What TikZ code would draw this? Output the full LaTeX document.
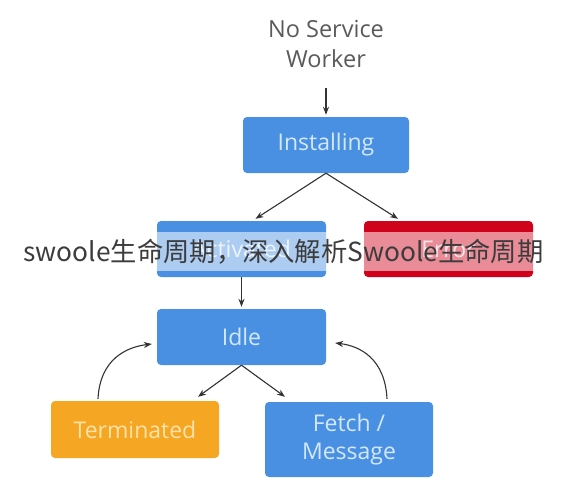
\documentclass[tikz,border=0pt]{standalone}
\usepackage{fontspec}
\setmainfont{Open Sans}
\newfontfamily\cjk{Noto Sans CJK SC}
\usetikzlibrary{arrows.meta,calc}
\definecolor{boxblue}{HTML}{4A90E2}
\definecolor{txtblue}{HTML}{D3E8FC}
\definecolor{boxred}{HTML}{D0021B}
\definecolor{txtred}{HTML}{F6C9CF}
\definecolor{boxorange}{HTML}{F5A623}
\definecolor{txtorange}{HTML}{FFE3A8}
\definecolor{linegray}{HTML}{333333}
\definecolor{titlegray}{HTML}{5A5A5A}
\definecolor{wmgray}{HTML}{3C3C3C}
\tikzset{
  state/.style={rounded corners=4pt, minimum width=169pt, minimum height=56pt,
    inner sep=0pt, font=\fontsize{23}{28}\selectfont, align=center},
  bluebox/.style={state, fill=boxblue, text=txtblue},
  redbox/.style={state, fill=boxred, text=txtred},
  orangebox/.style={state, fill=boxorange, text=txtorange},
  conn/.style={draw=linegray, line width=1.1pt, -{Stealth[length=8pt,width=6pt]}},
}
\begin{document}
\begin{tikzpicture}[x=1pt,y=-1pt]
\useasboundingbox (0,0) rectangle (566,490);
\fill[white] (0,0) rectangle (566,490);
\node[text=titlegray, font=\fontsize{23.5}{30}\selectfont, align=center] (nosw) at (326,44) {No Service\\Worker};
\node[bluebox, minimum width=166pt] (inst) at (326,145) {Installing};
\node[bluebox] (act) at (241.5,249) {Activated};
\node[redbox] (err) at (448.5,249) {Error};
\node[bluebox] (idle) at (241.5,337) {Idle};
\node[orangebox, minimum width=168pt, minimum height=57pt] (term) at (135,429.5) {Terminated};
\node[bluebox, minimum width=168pt, minimum height=75pt] (fetch) at (349,439.5) {Fetch /\\Message};
\coordinate (nosw-end) at (326,88);
\draw[conn] (nosw-end) -- ([yshift=2pt]inst.north);
\draw[conn] (inst.south) -- ([xshift=14pt,yshift=2pt]act.north);
\draw[conn] (inst.south) -- ([xshift=-50.5pt,yshift=2pt]err.north);
\draw[conn] (act.south) -- ([yshift=2pt]idle.north);
\draw[conn] (idle.south) -- ([xshift=63pt,yshift=4pt]term.north);
\draw[conn] (idle.south) -- ([xshift=-64pt,yshift=5pt]fetch.north);
\draw[conn] ([xshift=-37pt,yshift=2pt]term.north) .. controls +(2,-40) and +(-25,3) .. ([xshift=-5pt,yshift=-7pt]idle.west);
\draw[conn] ([xshift=38pt,yshift=3pt]fetch.north) .. controls +(-2,-40) and +(25,3) .. ([xshift=9pt,yshift=-6pt]idle.east);
\fill[white, opacity=0.55] (0,232) rectangle (566,271);
\node[text=wmgray, font=\cjk\fontsize{26.3}{30}\selectfont, inner sep=0pt] (wm) at (283.5,252) {swoole生命周期，深入解析Swoole生命周期};
\end{tikzpicture}
\end{document}
